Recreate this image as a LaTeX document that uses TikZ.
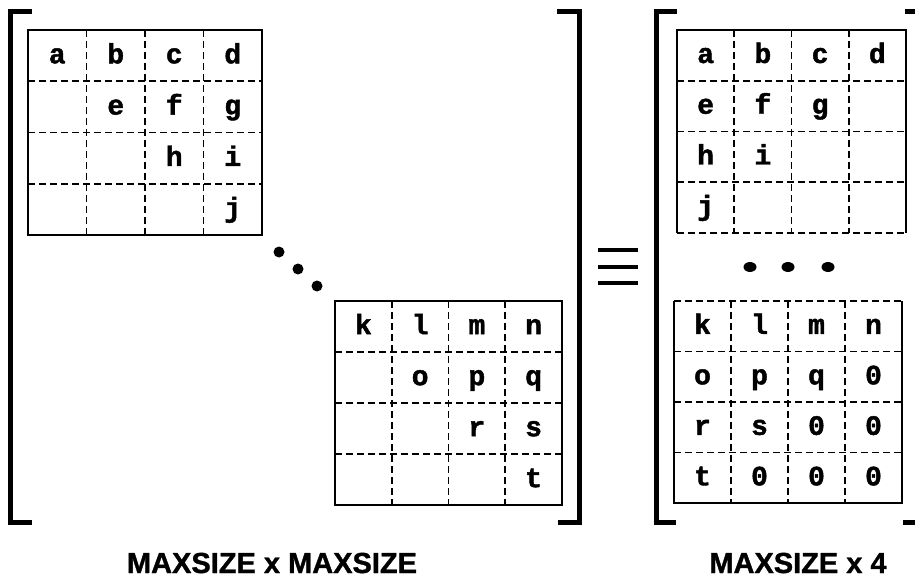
\documentclass[tikz,border=0pt]{standalone}
\usepackage{fontspec}
\newfontfamily\cellfont[BoldFeatures={FakeBold=1.6}]{Liberation Mono}
\newfontfamily\labfont[BoldFeatures={FakeBold=1.2}]{Liberation Sans}
\tikzset{
  outerline/.style={line width=2pt},
  innerline/.style={line width=1.7pt, dash pattern=on 7pt off 4pt},
  bracketline/.style={line width=5pt, line join=miter, line cap=butt},
  cell/.style={font=\cellfont\bfseries\fontsize{28}{28}\selectfont, anchor=base, inner sep=0pt},
  biglabel/.style={font=\labfont\bfseries\fontsize{29}{29}\selectfont, anchor=base, inner sep=0pt},
  bigdot/.style={fill=black, draw=none},
  eqbar/.style={line width=4pt}
}
\newcommand\setgrid[5]{\def\gname{#1}\def\gxa{#2}\def\gya{#3}\def\gxb{#4}\def\gyb{#5}%
  \foreach \k in {1,2,3}{%
    \draw[innerline] ({\gxa+\k*(\gxb-\gxa)/4},\gya) -- ({\gxa+\k*(\gxb-\gxa)/4},\gyb);
    \draw[innerline] (\gxa,{\gya+\k*(\gyb-\gya)/4}) -- (\gxb,{\gya+\k*(\gyb-\gya)/4});
  }}
\newcommand\cellnode[3]{%
  \pgfmathsetmacro\cx{\gxa+(#2-0.5)*(\gxb-\gxa)/4}%
  \pgfmathsetmacro\cy{\gya+(#1-0.35)*(\gyb-\gya)/4}%
  \node[cell] (\gname-#1-#2) at (\cx,\cy) {#3};}
\begin{document}
\begin{tikzpicture}[x=1pt,y=-1pt]
\useasboundingbox (0,0) rectangle (915,580);
% ---------- left matrix ----------
\setgrid{LA}{28}{30}{262}{235}
\draw[outerline] (28,30) rectangle (262,235);
\cellnode{1}{1}{a}\cellnode{1}{2}{b}\cellnode{1}{3}{c}\cellnode{1}{4}{d}
\cellnode{2}{2}{e}\cellnode{2}{3}{f}\cellnode{2}{4}{g}
\cellnode{3}{3}{h}\cellnode{3}{4}{i}
\cellnode{4}{4}{j}

\setgrid{LB}{335}{301}{562}{505}
\draw[outerline] (335,301) rectangle (562,505);
\cellnode{1}{1}{k}\cellnode{1}{2}{l}\cellnode{1}{3}{m}\cellnode{1}{4}{n}
\cellnode{2}{2}{o}\cellnode{2}{3}{p}\cellnode{2}{4}{q}
\cellnode{3}{3}{r}\cellnode{3}{4}{s}
\cellnode{4}{4}{t}

\fill[bigdot] (279,252) circle (5.5);
\fill[bigdot] (298,269) circle (5.5);
\fill[bigdot] (317,286) circle (5.5);

\draw[bracketline] (32,12) -- (10,12) -- (10,522) -- (32,522);
\draw[bracketline] (557,12) -- (579,12) -- (579,522) -- (558,522);

% ---------- equivalence sign ----------
\draw[eqbar] (598,250) -- (638,250);
\draw[eqbar] (598,267) -- (638,267);
\draw[eqbar] (598,283) -- (638,283);

% ---------- right matrix ----------
\setgrid{RA}{677}{30}{906}{233}
\draw[outerline] (677,233) -- (677,30) -- (906,30) -- (906,233);
\draw[innerline] (677,233) -- (906,233);
\cellnode{1}{1}{a}\cellnode{1}{2}{b}\cellnode{1}{3}{c}\cellnode{1}{4}{d}
\cellnode{2}{1}{e}\cellnode{2}{2}{f}\cellnode{2}{3}{g}
\cellnode{3}{1}{h}\cellnode{3}{2}{i}
\cellnode{4}{1}{j}

\fill[bigdot] (750,267) ellipse (6.5 and 5);
\fill[bigdot] (788,267) ellipse (6.5 and 5);
\fill[bigdot] (828,267) ellipse (6.5 and 5);

\setgrid{RB}{674}{301}{902}{503}
\draw[outerline] (674,301) -- (674,503) -- (902,503) -- (902,301);
\draw[innerline] (674,301) -- (902,301);
\cellnode{1}{1}{k}\cellnode{1}{2}{l}\cellnode{1}{3}{m}\cellnode{1}{4}{n}
\cellnode{2}{1}{o}\cellnode{2}{2}{p}\cellnode{2}{3}{q}\cellnode{2}{4}{0}
\cellnode{3}{1}{r}\cellnode{3}{2}{s}\cellnode{3}{3}{0}\cellnode{3}{4}{0}
\cellnode{4}{1}{t}\cellnode{4}{2}{0}\cellnode{4}{3}{0}\cellnode{4}{4}{0}

\draw[bracketline] (677,12) -- (656,12) -- (656,522) -- (676,522);
\draw[bracketline] (905,12) -- (918,12) -- (918,522) -- (903,522);

% ---------- labels ----------
\node[biglabel] (lblA) at (272,573) {MAXSIZE x MAXSIZE};
\node[biglabel] (lblB) at (798,573) {MAXSIZE x 4};
\end{tikzpicture}
\end{document}
